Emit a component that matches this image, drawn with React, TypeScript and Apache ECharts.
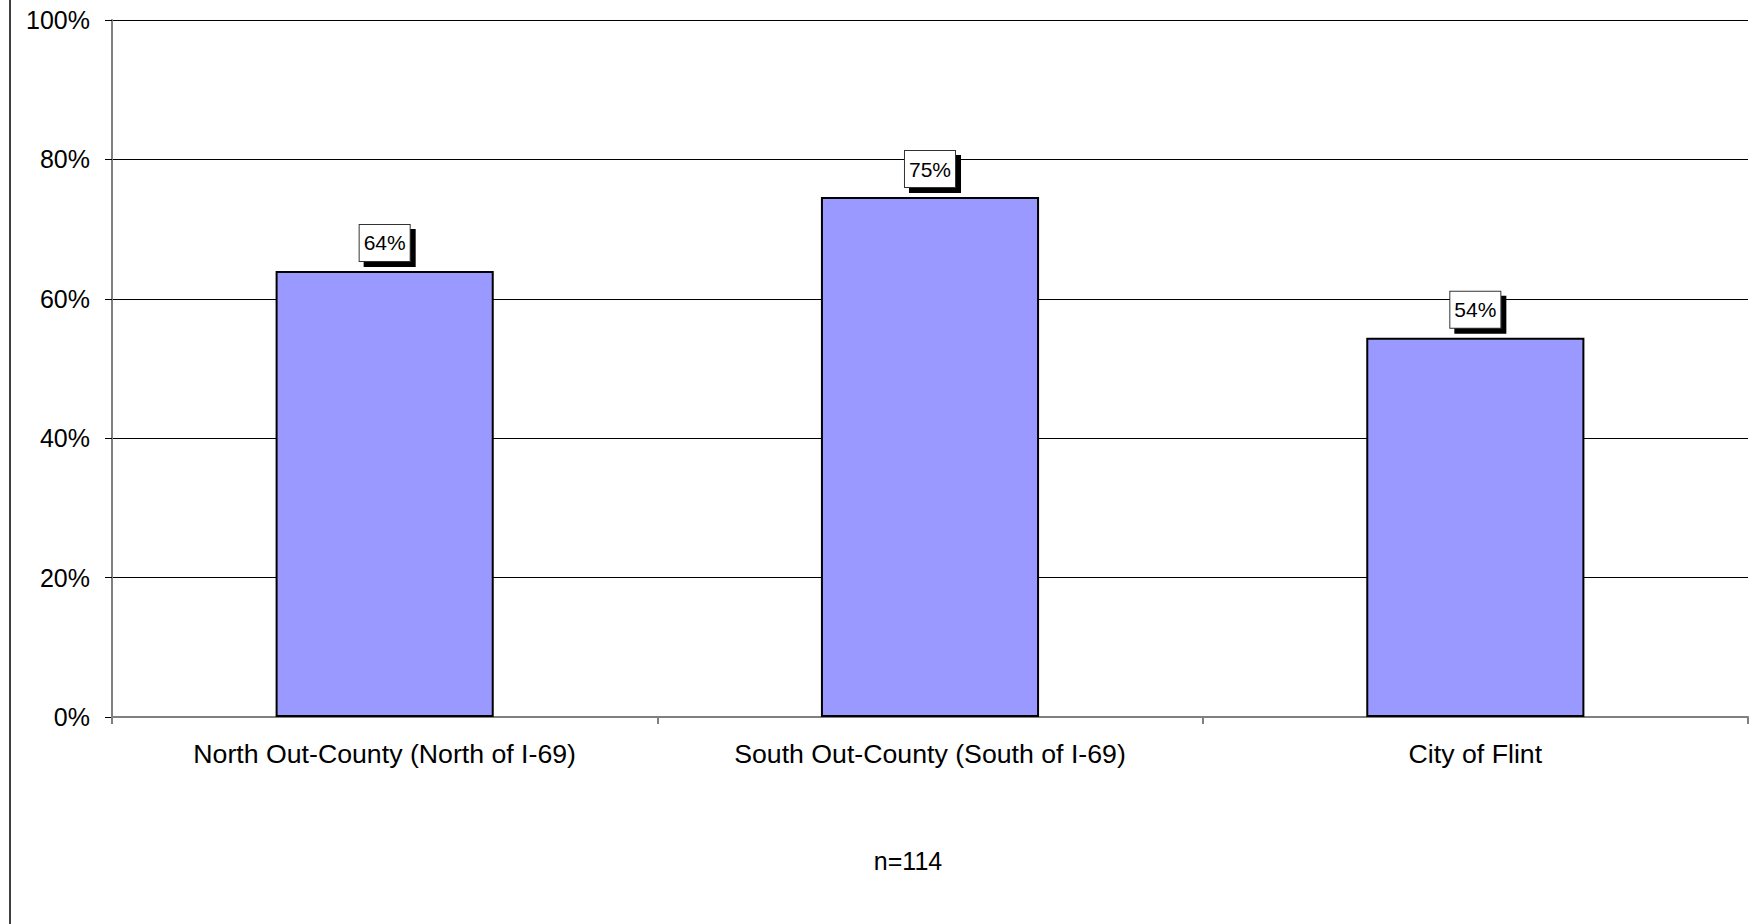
import React, { useEffect, useRef } from "react";
import * as echarts from "echarts";

const categories = [
  "North Out-County (North of I-69)",
  "South Out-County (South of I-69)",
  "City of Flint",
];
const values = [64.0, 74.6, 54.4];
const yTicks = [0, 20, 40, 60, 80, 100];
const footnote = "n=114";

const FONT = "'Liberation Sans', Arial, sans-serif";

export default function App() {
  const ref = useRef<HTMLDivElement>(null);
  useEffect(() => {
    document.body.style.margin = "0";
    const chart = echarts.init(ref.current!, undefined, { renderer: "svg" });
    chart.setOption({
      animation: false,
      backgroundColor: "#fff",
      textStyle: { fontFamily: FONT },
      grid: { left: 112, right: 8, top: 20, bottom: 207, containLabel: false },
      xAxis: {
        type: "category",
        data: categories,
        axisLine: { show: true, lineStyle: { color: "#808080", width: 2 } },
        axisTick: { show: true, length: 7, lineStyle: { color: "#808080", width: 2 } },
        axisLabel: { color: "#000", fontSize: 26.7, fontFamily: FONT, margin: 23 },
        splitLine: { show: false },
      },
      yAxis: {
        type: "value",
        min: yTicks[0],
        max: yTicks[yTicks.length - 1],
        interval: 20,
        axisLine: { show: true, lineStyle: { color: "#808080", width: 2 } },
        axisTick: { show: true, length: 7, lineStyle: { color: "#000", width: 1 } },
        axisLabel: {
          color: "#000",
          fontSize: 25,
          fontFamily: FONT,
          margin: 22,
          formatter: (v: number) => `${v}%`,
        },
        splitLine: { show: true, lineStyle: { color: "#000", width: 1 } },
      },
      series: [
        {
          type: "bar",
          data: values,
          barWidth: "40%",
          itemStyle: { color: "#9999FF", borderColor: "#000", borderWidth: 2 },
          label: {
            show: true,
            position: "top",
            distance: 10,
            formatter: (p: any) => `${Math.round(p.value)}%`,
            color: "#000",
            fontSize: 21,
            fontFamily: FONT,
            lineHeight: 24,
            padding: [6, 4, 6, 4],
            backgroundColor: "#fff",
            borderColor: "#333",
            borderWidth: 1,
            shadowColor: "#000",
            shadowBlur: 0,
            shadowOffsetX: 5,
            shadowOffsetY: 5,
          },
        },
      ],
      graphic: [
        {
          type: "line",
          shape: { x1: 10, y1: 0, x2: 10, y2: 924 },
          style: { stroke: "#404040", lineWidth: 2 },
        },
        {
          type: "text",
          x: 908,
          y: 861,
          style: {
            text: footnote,
            fontSize: 25,
            fontFamily: FONT,
            fill: "#000",
            textAlign: "center",
            textVerticalAlign: "middle",
          },
        },
      ],
    });
    return () => chart.dispose();
  }, []);
  return <div ref={ref} style={{ width: 1756, height: 924 }} />;
}
